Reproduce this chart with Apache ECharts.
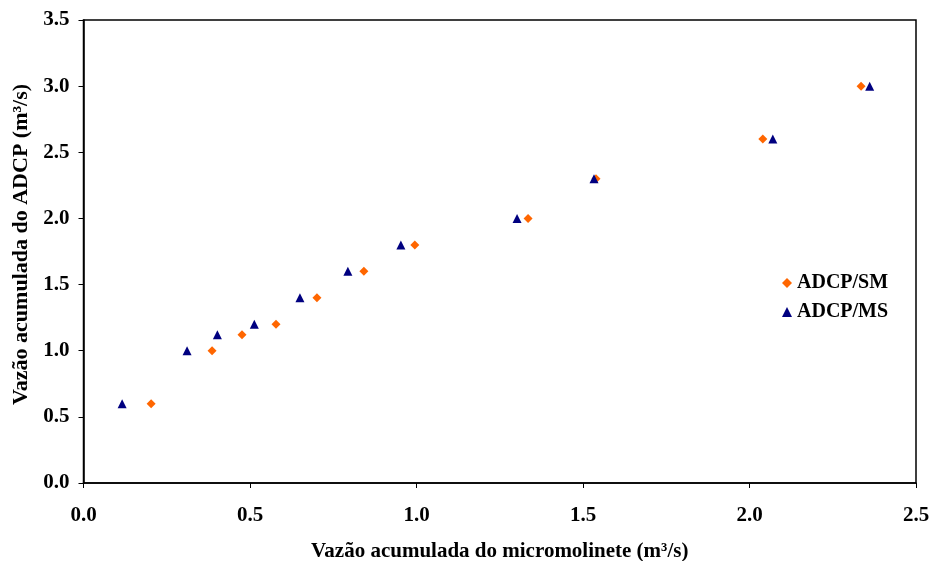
<!DOCTYPE html>
<html>
<head>
<meta charset="utf-8">
<script src="https://cdn.jsdelivr.net/npm/echarts@6/dist/echarts.min.js"></script>
<style>html,body{margin:0;padding:0;background:#fff;}#c{width:934px;height:561px;}</style>
</head>
<body>
<div id="c"></div>
<script>
const yValues = [0.6, 1.0, 1.12, 1.2, 1.4, 1.6, 1.8, 2.0, 2.3, 2.6, 3.0];
const xSM = [0.203, 0.386, 0.476, 0.578, 0.701, 0.842, 0.995, 1.335, 1.539, 2.040, 2.335];
const xMS = [0.116, 0.311, 0.402, 0.513, 0.650, 0.794, 0.953, 1.302, 1.533, 2.070, 2.361];
const seriesNames = ['ADCP/SM', 'ADCP/MS'];
const xTitle = 'Vazão acumulada do micromolinete (m³/s)';
const yTitle = 'Vazão acumulada do ADCP (m³/s)';

const font = 'Liberation Serif, Times New Roman, serif';
const chart = echarts.init(document.getElementById('c'));
const pairs = (xs) => xs.map((x, i) => [x, yValues[i]]);
chart.setOption({
  animation: false,
  backgroundColor: '#fff',
  grid: { left: 83.5, top: 20, right: 18, bottom: 78, containLabel: false, outerBoundsMode: 'none', show: true, borderColor: '#000', borderWidth: 1.5 },
  legend: {
    orient: 'vertical', left: 777, top: 268, itemGap: 9, itemWidth: 10, itemHeight: 10,
    textStyle: { fontFamily: font, fontWeight: 'bold', fontSize: 20, color: '#000' },
    data: [{ name: seriesNames[0], icon: 'diamond' }, { name: seriesNames[1], icon: 'triangle' }]
  },
  xAxis: {
    type: 'value', min: 0, max: 2.5, interval: 0.5,
    name: xTitle, nameLocation: 'middle', nameGap: 58,
    nameTextStyle: { fontFamily: font, fontWeight: 'bold', fontSize: 21, color: '#000' },
    axisLine: { show: true, onZero: false, lineStyle: { color: '#000', width: 1.5 } },
    axisTick: { show: true, length: 5, lineStyle: { color: '#000' } },
    axisLabel: { margin: 22, fontFamily: font, fontWeight: 'bold', fontSize: 21, color: '#000', formatter: v => v.toFixed(1) },
    splitLine: { show: false }
  },
  yAxis: {
    type: 'value', min: 0, max: 3.5, interval: 0.5,
    name: yTitle, nameLocation: 'middle', nameGap: 51,
    nameTextStyle: { fontFamily: font, fontWeight: 'bold', fontSize: 22, color: '#000', padding: [0, 0, 0, 14] },
    axisLine: { show: true, onZero: false, lineStyle: { color: '#000', width: 1.5 } },
    axisTick: { show: true, length: 5, lineStyle: { color: '#000' } },
    axisLabel: { margin: 14, fontFamily: font, fontWeight: 'bold', fontSize: 21, color: '#000', formatter: v => v.toFixed(1) },
    splitLine: { show: false }
  },
  series: [
    { name: seriesNames[0], type: 'scatter', symbol: 'diamond', symbolSize: 9, itemStyle: { color: '#FF6600', opacity: 1 }, data: pairs(xSM) },
    { name: seriesNames[1], type: 'scatter', symbol: 'triangle', symbolSize: 9, itemStyle: { color: '#000080', opacity: 1 }, data: pairs(xMS) }
  ]
});
</script>
</body>
</html>
